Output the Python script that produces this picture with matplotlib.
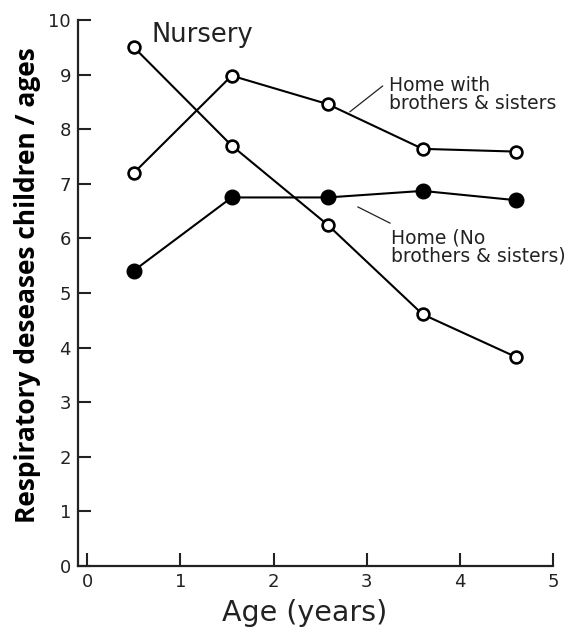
import matplotlib
matplotlib.use("Agg")
import matplotlib.pyplot as plt

ages = [0.5, 1.55, 2.58, 3.6, 4.6]
nursery = [9.5, 7.7, 6.25, 4.61, 3.83]
home_siblings = [7.2, 8.98, 8.46, 7.64, 7.59]
home_alone = [5.41, 6.75, 6.75, 6.87, 6.7]
xticks = [0, 1, 2, 3, 4, 5]
yticks = list(range(0, 11))

plt.rcParams['font.family'] = ['DejaVu Sans']

fig = plt.figure(figsize=(5.66, 6.30), dpi=100)
ax = fig.add_axes([78/566, (630-566)/630, 475/566, 546/630])

ax.plot(ages, nursery, '-o', color='black', lw=1.5, ms=8.5,
        mfc='white', mec='black', mew=1.9, zorder=3)
ax.plot(ages, home_siblings, '-o', color='black', lw=1.5, ms=8.5,
        mfc='white', mec='black', mew=1.9, zorder=3)
ax.plot(ages, home_alone, '-o', color='black', lw=1.5, ms=10.5,
        mfc='black', mec='black', zorder=3)

ax.set_xlim(-0.1, 5)
ax.set_ylim(0, 10)
ax.set_xticks(xticks)
ax.set_yticks(yticks)
ax.spines['top'].set_visible(False)
ax.spines['right'].set_visible(False)
for s in ['left', 'bottom']:
    ax.spines[s].set_linewidth(1.6)
    ax.spines[s].set_color('#222222')
ax.tick_params(direction='in', length=9.4, width=1.5, labelsize=13,
               pad=5, color='#222222', labelcolor='#222222')
ax.tick_params(axis='x', pad=5)

ax.set_xlabel('Age (years)', fontsize=20.5, color='#222222')
ax.xaxis.set_label_coords(0.478, -0.06)
ax.set_ylabel('Respiratory deseases children / ages', fontsize=19,
              fontweight='bold', family=['Open Sans'])
ax.yaxis.set_label_coords(-0.078, 0.515)

ax.text(0.69, 9.73, 'Nursery', fontsize=18.5, va='center', ha='left',
        color='#222222')
ax.text(3.24, 8.63, 'Home with\nbrothers & sisters', fontsize=13.5,
        va='center', ha='left', linespacing=0.92, color='#222222')
ax.plot([2.82, 3.17], [8.32, 8.79], color='#222222', lw=0.9)
ax.text(3.26, 5.84, 'Home (No\nbrothers & sisters)', fontsize=13.5,
        va='center', ha='left', linespacing=0.92, color='#222222')
ax.plot([2.906, 3.25], [6.575, 6.28], color='#222222', lw=0.9)

fig.savefig('out.png', dpi=100)
